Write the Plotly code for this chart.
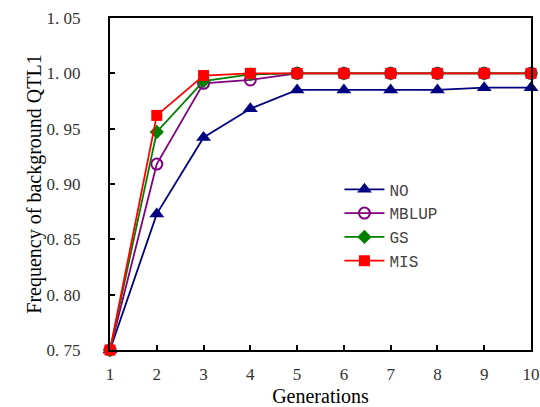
import plotly.graph_objects as go

generations = [1, 2, 3, 4, 5, 6, 7, 8, 9, 10]
no_vals = [0.75, 0.873, 0.942, 0.968, 0.985, 0.985, 0.985, 0.985, 0.987, 0.987]
mblup_vals = [0.75, 0.918, 0.991, 0.994, 1.0, 1.0, 1.0, 1.0, 1.0, 1.0]
gs_vals = [0.75, 0.947, 0.993, 0.999, 1.0, 1.0, 1.0, 1.0, 1.0, 1.0]
mis_vals = [0.75, 0.962, 0.998, 1.0, 1.0, 1.0, 1.0, 1.0, 1.0, 1.0]
y_ticks = [0.75, 0.80, 0.85, 0.90, 0.95, 1.00, 1.05]
y_tick_text = ["0. 75", "0. 80", "0. 85", "0. 90", "0. 95", "1. 00", "1. 05"]

series = [
    ("NO", no_vals, "#000080", "triangle-up", 13),
    ("MBLUP", mblup_vals, "#800080", "circle-open", 11),
    ("GS", gs_vals, "#008000", "diamond", 11),
    ("MIS", mis_vals, "#FF0000", "square", 11),
]

fig = go.Figure()
for name, vals, color, sym, size in series:
    fig.add_trace(go.Scatter(
        x=generations, y=vals, name=name, mode="lines+markers",
        line=dict(color=color, width=1.8),
        marker=dict(symbol=sym, size=size, color=color,
                    line=dict(color=color, width=2 if sym == "circle-open" else 0)),
        cliponaxis=False,
    ))

font_tick = dict(family="Liberation Serif", size=17, color="#333")
fig.update_layout(
    width=540, height=407,
    margin=dict(l=110, r=9, t=18, b=57, autoexpand=False),
    paper_bgcolor="white", plot_bgcolor="white",
    showlegend=True,
    legend=dict(x=0.545, y=0.535, xanchor="left", yanchor="top",
                bgcolor="rgba(0,0,0,0)", borderwidth=0,
                font=dict(family="Liberation Mono", size=16, color="#444"),
                tracegroupgap=0, itemwidth=40),
    xaxis=dict(range=[1, 10], tickvals=generations, ticks="inside", ticklen=5,
               tickwidth=1.5, tickcolor="black", automargin=False,
               showline=True, linecolor="black", linewidth=2, mirror=True,
               showgrid=False, zeroline=False, tickfont=font_tick,
               ticklabelstandoff=8,
               title=dict(text="Generations", standoff=6,
                          font=dict(family="Liberation Serif", size=20, color="black"))),
    yaxis=dict(range=[0.75, 1.05], tickvals=y_ticks, ticktext=y_tick_text,
               ticks="inside", ticklen=5, tickwidth=1.5, tickcolor="black",
               showline=True, linecolor="black", linewidth=2, mirror=True,
               showgrid=False, zeroline=False, tickfont=font_tick,
               automargin=False, ticklabelstandoff=24,
               title=dict(text="Frequency of background QTL1", standoff=0,
                          font=dict(family="Liberation Serif", size=20, color="black"))),
)
fig.write_html("out.html")
